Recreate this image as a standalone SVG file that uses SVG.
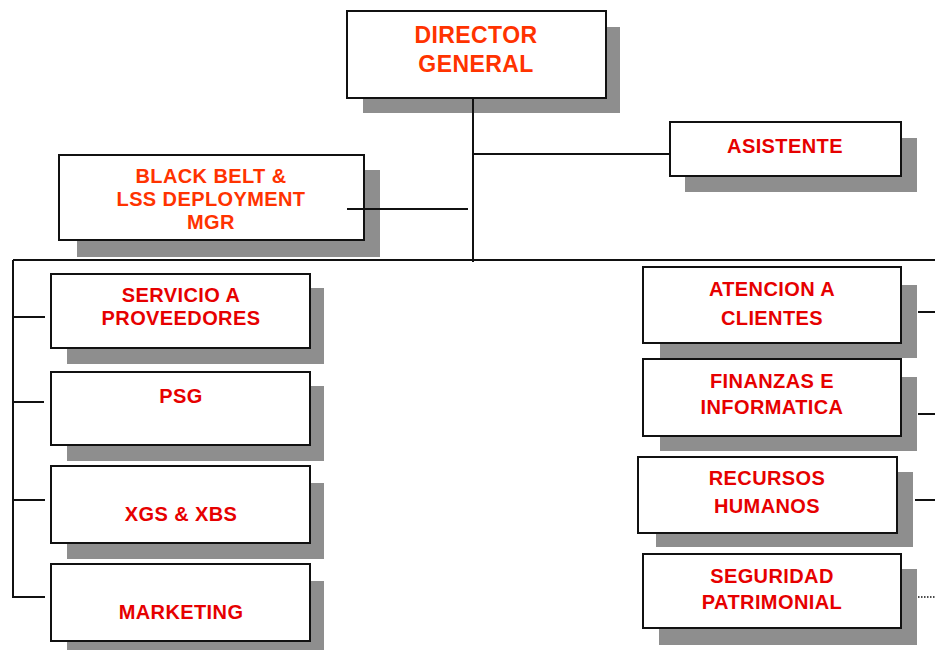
<svg xmlns="http://www.w3.org/2000/svg" width="935" height="650" viewBox="0 0 935 650">
  <style>
    .shadow { fill: #8e8e8e; }
    .box { fill: #ffffff; stroke: #111111; stroke-width: 2; }
    .lbl { font-family: "Liberation Sans", Arial, sans-serif; font-weight: bold; font-size: 20px; fill: #e60000; text-anchor: middle; letter-spacing: 0.4px; }
    .lbl.top { fill: #ff3300; font-size: 23px; }
    .lbl.orange { fill: #ff3300; }
    .wire { stroke: #111111; stroke-width: 2; fill: none; }
    .dots { stroke: #111111; stroke-width: 1.5; stroke-dasharray: 1.5 1.5; fill: none; }
  </style>
  <rect width="935" height="650" fill="#ffffff"/>

  <g id="director-general">
    <rect class="shadow" x="363" y="27" width="257" height="86"/>
    <rect class="box" x="347" y="11" width="259" height="87"/>
    <text class="lbl top" x="476" y="43">DIRECTOR</text>
    <text class="lbl top" x="476" y="72">GENERAL</text>
  </g>

  <g id="asistente">
    <rect class="shadow" x="685" y="138" width="232" height="54"/>
    <rect class="box" x="670" y="122" width="231" height="54"/>
    <text class="lbl" x="785" y="153">ASISTENTE</text>
  </g>

  <g id="black-belt">
    <rect class="shadow" x="77" y="170" width="303" height="87"/>
    <rect class="box" x="59" y="155" width="305" height="85"/>
    <text class="lbl orange" x="211" y="183">BLACK BELT &amp;</text>
    <text class="lbl orange" x="211" y="206">LSS DEPLOYMENT</text>
    <text class="lbl orange" x="211" y="229">MGR</text>
  </g>

  <g id="servicio-proveedores">
    <rect class="shadow" x="67" y="288" width="257" height="76"/>
    <rect class="box" x="51" y="274" width="259" height="74"/>
    <text class="lbl" x="181" y="302">SERVICIO A</text>
    <text class="lbl" x="181" y="325">PROVEEDORES</text>
  </g>

  <g id="psg">
    <rect class="shadow" x="67" y="386" width="257" height="75"/>
    <rect class="box" x="51" y="372" width="259" height="73"/>
    <text class="lbl" x="181" y="403">PSG</text>
  </g>

  <g id="xgs-xbs">
    <rect class="shadow" x="67" y="483" width="257" height="76"/>
    <rect class="box" x="51" y="466" width="259" height="77"/>
    <text class="lbl" x="181" y="521">XGS &amp; XBS</text>
  </g>

  <g id="marketing">
    <rect class="shadow" x="67" y="581" width="257" height="76"/>
    <rect class="box" x="51" y="564" width="259" height="77"/>
    <text class="lbl" x="181" y="619">MARKETING</text>
  </g>

  <g id="atencion-clientes">
    <rect class="shadow" x="660" y="285" width="257" height="73"/>
    <rect class="box" x="643" y="267" width="258" height="76"/>
    <text class="lbl" x="772" y="296">ATENCION A</text>
    <text class="lbl" x="772" y="325">CLIENTES</text>
  </g>

  <g id="finanzas-informatica">
    <rect class="shadow" x="660" y="377" width="257" height="74"/>
    <rect class="box" x="643" y="359" width="258" height="77"/>
    <text class="lbl" x="772" y="388">FINANZAS E</text>
    <text class="lbl" x="772" y="414">INFORMATICA</text>
  </g>

  <g id="recursos-humanos">
    <rect class="shadow" x="656" y="472" width="257" height="75"/>
    <rect class="box" x="638" y="457" width="259" height="76"/>
    <text class="lbl" x="767" y="485">RECURSOS</text>
    <text class="lbl" x="767" y="513">HUMANOS</text>
  </g>

  <g id="seguridad-patrimonial">
    <rect class="shadow" x="659" y="569" width="258" height="76"/>
    <rect class="box" x="643" y="554" width="258" height="74"/>
    <text class="lbl" x="772" y="583">SEGURIDAD</text>
    <text class="lbl" x="772" y="609">PATRIMONIAL</text>
  </g>

  <g id="connectors">
    <!-- trunk from the director down to the department bus -->
    <path class="wire" d="M473 98 V262"/>
    <path class="wire" d="M473 154 H670"/>
    <path class="wire" d="M347 209 H468"/>
    <!-- department bus -->
    <path class="wire" d="M13 260 H935"/>
    <!-- left column -->
    <path class="wire" d="M13 260 V597 H45"/>
    <path class="wire" d="M13 317 H45"/>
    <path class="wire" d="M13 402 H44"/>
    <path class="wire" d="M13 500 H45"/>
    <!-- right column stubs -->
    <path class="wire" d="M918 312 H935"/>
    <path class="wire" d="M918 414 H935"/>
    <path class="wire" d="M915 500 H935"/>
    <path class="dots" d="M918 597 H935"/>
  </g>
</svg>
